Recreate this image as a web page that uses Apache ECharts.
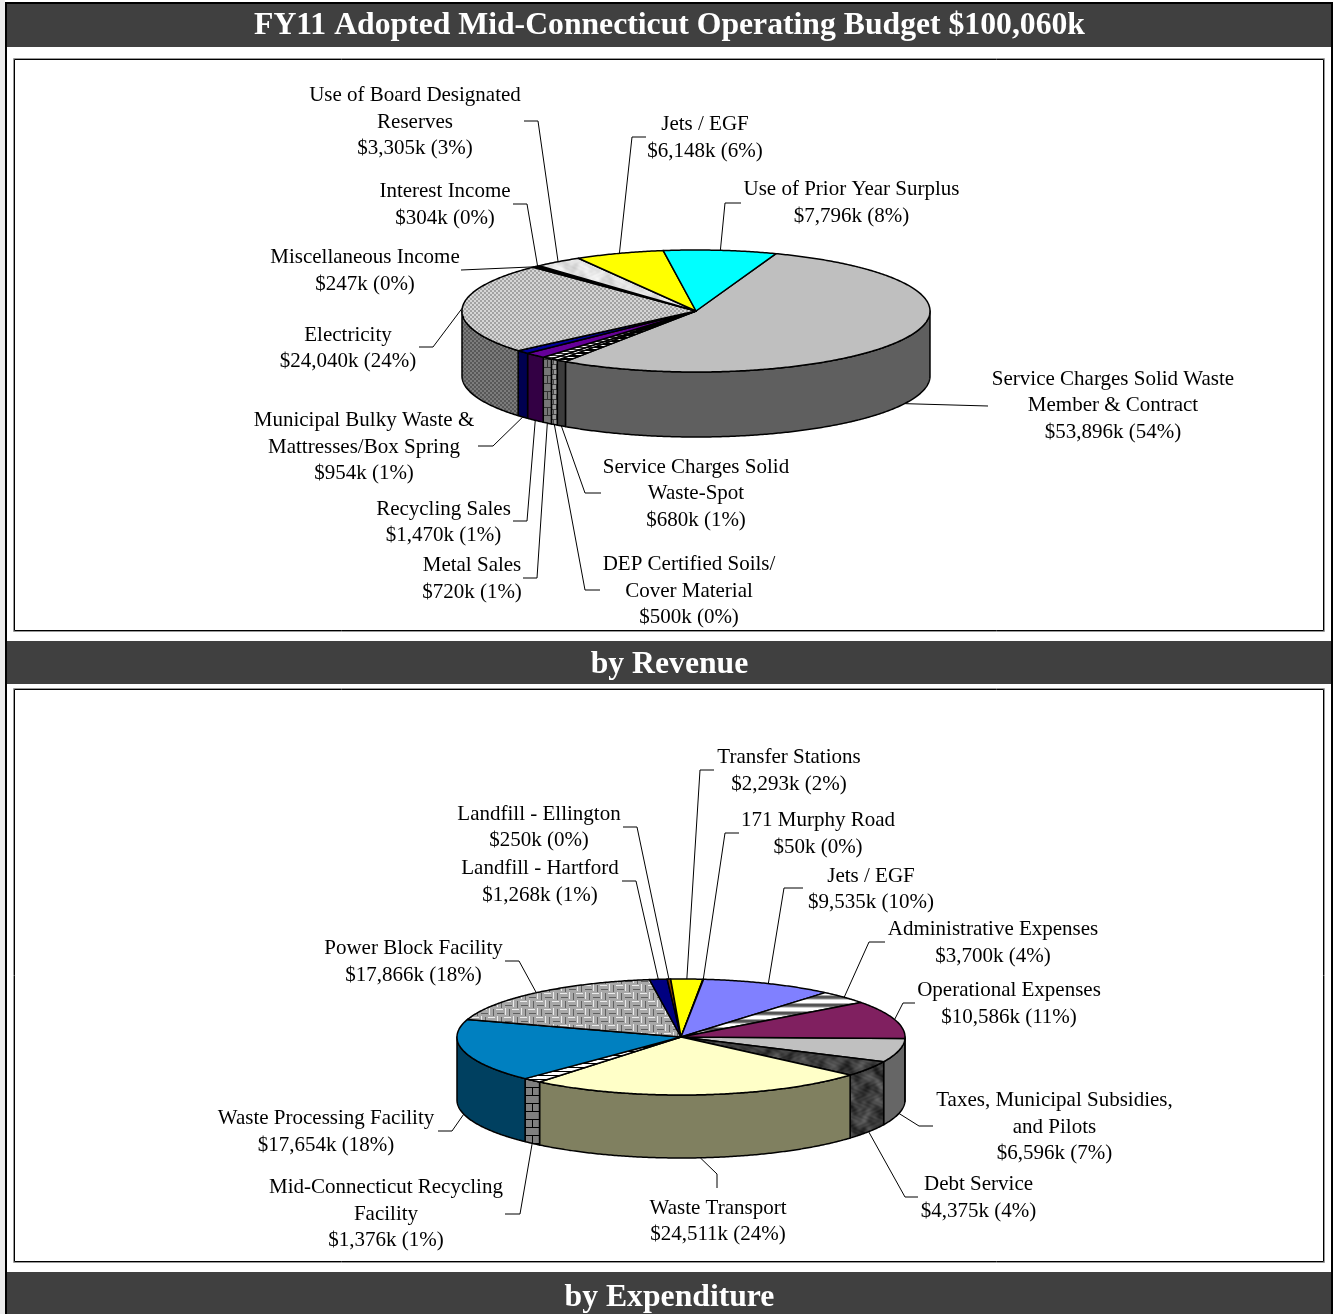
<!DOCTYPE html>
<html>
<head>
<meta charset="utf-8">
<title>FY11 Adopted Mid-Connecticut Operating Budget</title>
<script src="https://cdn.jsdelivr.net/npm/echarts@6/dist/echarts.min.js"></script>
<style>
  html, body { margin: 0; padding: 0; background: #fff; }
  #chart { width: 1339px; height: 1314px; }
</style>
</head>
<body>
<div id="chart"></div>
<script>
// chart text
const titleMain = 'FY11 Adopted Mid-Connecticut Operating Budget $100,060k'
const titleRevenue = 'by Revenue'
const titleExpense = 'by Expenditure'

// revenue slices, clockwise from the big grey one
const revenueNames = [
  'Service Charges Solid Waste\nMember & Contract',
  'Service Charges Solid\nWaste-Spot',
  'DEP Certified Soils/\nCover Material',
  'Metal Sales',
  'Recycling Sales',
  'Municipal Bulky Waste &\nMattresses/Box Spring',
  'Electricity',
  'Miscellaneous Income',
  'Interest Income',
  'Use of Board Designated\nReserves',
  'Jets / EGF',
  'Use of Prior Year Surplus'
]
const revenueValues = [53896, 680, 500, 720, 1470, 954, 24040, 247, 304, 3305, 6148, 7796]

// expenditure slices, clockwise from the horizontal edge on the right
const expenseNames = [
  'Taxes, Municipal Subsidies,\nand Pilots',
  'Debt Service',
  'Waste Transport',
  'Mid-Connecticut Recycling\nFacility',
  'Waste Processing Facility',
  'Power Block Facility',
  'Landfill - Hartford',
  'Landfill - Ellington',
  'Transfer Stations',
  '171 Murphy Road',
  'Jets / EGF',
  'Administrative Expenses',
  'Operational Expenses'
]
const expenseValues = [6596, 4375, 24511, 1376, 17654, 17866, 1268, 250, 2293, 50, 9535, 3700, 10586]

// label centre + leader elbow points, same order as the slices
const revenueLabels = [
  { at: [1113, 405.5], line: [[988, 406]] },
  { at: [696, 493.5], line: [[585, 493], [601, 493]] },
  { at: [689, 591], line: [[585, 590], [600, 590]] },
  { at: [472, 579], line: [[537, 578], [523, 578]] },
  { at: [443.5, 522.5], line: [[527, 521], [513, 521]] },
  { at: [364, 447], line: [[493, 446], [478, 446]] },
  { at: [348, 348.5], line: [[433, 347], [419, 347]] },
  { at: [365, 271], line: [[461, 270]] },
  { at: [445, 205], line: [[527, 204], [513, 204]] },
  { at: [415, 122], line: [[538, 121], [524, 121]] },
  { at: [705, 138], line: [[632, 137], [646, 137]] },
  { at: [851.5, 203], line: [[725, 203], [741, 203]] }
]
const expenseLabels = [
  { at: [1054.5, 1127], line: [[919, 1126], [933, 1126]] },
  { at: [978.5, 1198], line: [[905, 1197], [918, 1197]] },
  { at: [718, 1221.5], line: [[717, 1174], [717, 1188]] },
  { at: [386, 1214], line: [[520, 1214], [505, 1214]] },
  { at: [326, 1132], line: [[452, 1131], [438, 1131]] },
  { at: [413.5, 962], line: [[519, 961], [505, 961]] },
  { at: [540, 882], line: [[636, 881], [622, 881]] },
  { at: [539, 827.5], line: [[637, 827], [623, 827]] },
  { at: [789, 771], line: [[700, 770], [714, 770]] },
  { at: [818, 834], line: [[725, 833], [739, 833]] },
  { at: [871, 889.5], line: [[784, 888], [803, 888]] },
  { at: [993, 943], line: [[869, 942], [885, 942]] },
  { at: [1009, 1004], line: [[903, 1003], [915, 1003]] }
]

// ---- fill tiles, the old Excel pattern fills ----
const makeTile = (w, h, draw) => {
  const c = document.createElement('canvas')
  c.width = w
  c.height = h
  draw(c.getContext('2d'), w, h)
  return { image: c, repeat: 'repeat' }
}

const checker = (a, b, size) =>
  makeTile(size * 2, size * 2, (g) => {
    g.fillStyle = a
    g.fillRect(0, 0, size * 2, size * 2)
    g.fillStyle = b
    g.fillRect(0, 0, size, size)
    g.fillRect(size, size, size, size)
  })

const stripes = (colors) =>
  makeTile(1, colors.length, (g) => {
    colors.forEach((col, i) => {
      g.fillStyle = col
      g.fillRect(0, i, 1, 1)
    })
  })

const bricks = (face, mortar, bw, bh) =>
  makeTile(bw, bh * 2, (g, w, h) => {
    g.fillStyle = face
    g.fillRect(0, 0, w, h)
    g.fillStyle = mortar
    g.fillRect(0, bh - 1, w, 1)
    g.fillRect(0, h - 1, w, 1)
    g.fillRect(Math.floor(bw / 4), 0, 1, bh)
    g.fillRect(Math.floor((3 * bw) / 4), bh, 1, bh)
  })

// cloudy marble, summed sines so the tile stays the same every run
const marble = (base, spread) =>
  makeTile(96, 96, (g) => {
    const t = Math.PI / 48
    for (let y = 0; y < 96; y++) {
      for (let x = 0; x < 96; x++) {
        const n =
          Math.sin(x * t * 3 + 2.2 * Math.sin(y * t * 2)) +
          Math.sin(y * t * 5 + 1.8 * Math.sin(x * t * 4)) +
          0.7 * Math.sin(x * t * 11 + 2 * Math.sin(y * t * 7)) * Math.sin(y * t * 13)
        const v = Math.round(base + (n * spread) / 2.7)
        g.fillStyle = `rgb(${v},${v},${v})`
        g.fillRect(x, y, 1, 1)
      }
    }
  })

// woven look of the Power Block slice
const weave = makeTile(16, 16, (g) => {
  g.fillStyle = '#a8a8a8'
  g.fillRect(0, 0, 16, 16)
  ;[[0, 0], [8, 8]].forEach(([x, y]) => {
    g.fillStyle = '#ececec'
    g.fillRect(x, y + 1, 7, 1)
    g.fillStyle = '#606060'
    g.fillRect(x + 1, y + 5, 7, 1)
  })
  ;[[8, 0], [0, 8]].forEach(([x, y]) => {
    g.fillStyle = '#ececec'
    g.fillRect(x + 1, y, 1, 7)
    g.fillStyle = '#606060'
    g.fillRect(x + 5, y + 1, 1, 7)
  })
})

const revenueFills = [
  { top: '#bfbfbf', side: '#5f5f5f' },
  { top: stripes(['#ffffff', '#000000', '#000000']), side: '#3c3c3c' },
  { top: stripes(['#ffffff', '#ffffff', '#333333']), side: bricks('#9a9a9a', '#444444', 6, 5) },
  { top: stripes(['#ffffff', '#333333']), side: bricks('#777777', '#333333', 10, 8) },
  { top: '#660099', side: '#330044' },
  { top: '#000099', side: '#000050' },
  { top: checker('#d6d6d6', '#a2a2a2', 2), side: checker('#7c7c7c', '#585858', 2) },
  { top: '#000000', side: '#000000' },
  { top: '#000000', side: '#000000' },
  { top: marble(226, 22), side: '#777777' },
  { top: '#ffff00', side: '#808000' },
  { top: '#00ffff', side: '#008080' }
]

const expenseFills = [
  { top: '#c0c0c0', side: '#666666' },
  { top: marble(62, 34), side: marble(62, 38) },
  { top: '#ffffc8', side: '#808060' },
  { top: stripes(['#ffffff', '#ffffff', '#ffffff', '#000000']), side: bricks('#808080', '#000000', 16, 8) },
  { top: '#0080c0', side: '#004060' },
  { top: weave, side: '#666666' },
  { top: '#000080', side: '#000040' },
  { top: '#804000', side: '#402000' },
  { top: '#ffff00', side: '#808000' },
  { top: '#ffff00', side: '#808000' },
  { top: '#8080ff', side: '#404080' },
  { top: stripes(['#ffffff', '#ffffff', '#ffffff', '#aaaaaa', '#555555', '#555555', '#777777', '#cccccc']), side: '#777777' },
  { top: '#802060', side: '#401030' }
]

// ---- 3D pie, one custom series per pie ----
const fontFamily = '"Liberation Serif", "Times New Roman", serif'

const moneyLabel = (value, total) =>
  '$' + value.toLocaleString('en-US') + 'k (' + Math.round((value / total) * 100) + '%)'

const makePieRenderer = (pie) => {
  const total = pie.values.reduce((a, b) => a + b, 0)
  const angleAt = (i) => {
    let sum = 0
    for (let k = 0; k < i; k++) sum += pie.values[k]
    return pie.start + (sum / total) * 360
  }
  const point = (deg, drop) => {
    const r = (deg * Math.PI) / 180
    return [pie.cx + pie.rx * Math.sin(r), pie.cy - pie.ry * Math.cos(r) + drop]
  }
  const arc = (from, to, drop) => {
    const pts = []
    const steps = Math.max(2, Math.ceil(Math.abs(to - from) * 2))
    for (let s = 0; s <= steps; s++) pts.push(point(from + ((to - from) * s) / steps, drop))
    return pts
  }

  return (params, api) => {
    const i = params.dataIndex
    const a1 = angleAt(i)
    const a2 = a1 + (api.value(0) / total) * 360
    const mid = (a1 + a2) / 2
    const children = []
    const edge = { stroke: '#000', lineWidth: 1.5, lineJoin: 'round' }

    // the wall only shows on the front half of the cylinder
    ;[[90, 270], [450, 630]].forEach(([lo, hi]) => {
      const from = Math.max(a1, lo)
      const to = Math.min(a2, hi)
      if (to <= from) return
      children.push({
        type: 'polygon',
        z2: 2,
        shape: { points: arc(from, to, 0).concat(arc(to, from, pie.depth)) },
        style: { fill: pie.fills[i].side, ...edge }
      })
    })

    children.push({
      type: 'polygon',
      z2: 3,
      shape: { points: [[pie.cx, pie.cy]].concat(arc(a1, a2, 0)) },
      style: { fill: pie.fills[i].top, ...edge }
    })

    // leader starts on the slice's outer edge
    const m = ((mid % 360) + 360) % 360
    const front = m > 90 && m < 270
    const label = pie.labels[i]
    children.push({
      type: 'polyline',
      z2: 1,
      shape: { points: [point(mid, front ? pie.depth : 0)].concat(label.line) },
      style: { fill: null, stroke: '#000', lineWidth: 1 }
    })

    children.push({
      type: 'text',
      z2: 4,
      style: {
        text: pie.names[i] + '\n' + moneyLabel(api.value(0), total),
        x: label.at[0],
        y: label.at[1],
        align: 'center',
        verticalAlign: 'middle',
        fontFamily,
        fontSize: 21,
        lineHeight: 26.5,
        fill: '#000'
      }
    })

    return { type: 'group', children }
  }
}

const pieSeries = (name, pie) => ({
  type: 'custom',
  name,
  coordinateSystem: 'none',
  silent: true,
  animation: false,
  data: pie.values.map((v) => [v]),
  renderItem: makePieRenderer(pie)
})

const barTitle = (text, top, size) => ({
  text,
  left: 'center',
  top,
  padding: 0,
  textStyle: { color: '#fff', fontFamily, fontWeight: 'bold', fontSize: size }
})

const chart = echarts.init(document.getElementById('chart'), null, { renderer: 'canvas' })

const bar = (y, h) => ({
  type: 'rect',
  silent: true,
  shape: { x: 7, y, width: 1324, height: h },
  style: { fill: '#404040' }
})
// thin grey line outside, black one inside
const panel = (y, h) => [
  {
    type: 'rect',
    silent: true,
    shape: { x: 13.5, y: y - 0.5, width: 1311, height: h + 1 },
    style: { fill: '#fff', stroke: '#999999', lineWidth: 1 }
  },
  {
    type: 'rect',
    silent: true,
    shape: { x: 14.5, y: y + 0.5, width: 1309, height: h - 1 },
    style: { fill: '#fff', stroke: '#000', lineWidth: 1 }
  }
]

chart.setOption({
  animation: false,
  backgroundColor: '#fff',
  title: [
    barTitle(titleMain, 10, 31.7),
    barTitle(titleRevenue, 649, 31.7),
    barTitle(titleExpense, 1282, 31.7)
  ],
  graphic: [
    { type: 'rect', silent: true, shape: { x: 0, y: 0, width: 5, height: 1314 }, style: { fill: '#ececec' } },
    { type: 'rect', silent: true, shape: { x: 6, y: 3, width: 1326, height: 1330 }, style: { fill: '#fff', stroke: '#000', lineWidth: 2 } },
    bar(4, 43),
    ...panel(59, 572),
    bar(641, 43),
    ...panel(689, 573),
    bar(1272, 42)
  ],
  series: [
    pieSeries('Revenue', {
      cx: 696, cy: 311, rx: 234, ry: 61, depth: 65, start: 20,
      values: revenueValues, names: revenueNames, fills: revenueFills, labels: revenueLabels
    }),
    pieSeries('Expenditure', {
      cx: 681, cy: 1037, rx: 224, ry: 58, depth: 63, start: 91.5,
      values: expenseValues, names: expenseNames, fills: expenseFills, labels: expenseLabels
    })
  ]
})

window.addEventListener('resize', () => chart.resize())
</script>
</body>
</html>
